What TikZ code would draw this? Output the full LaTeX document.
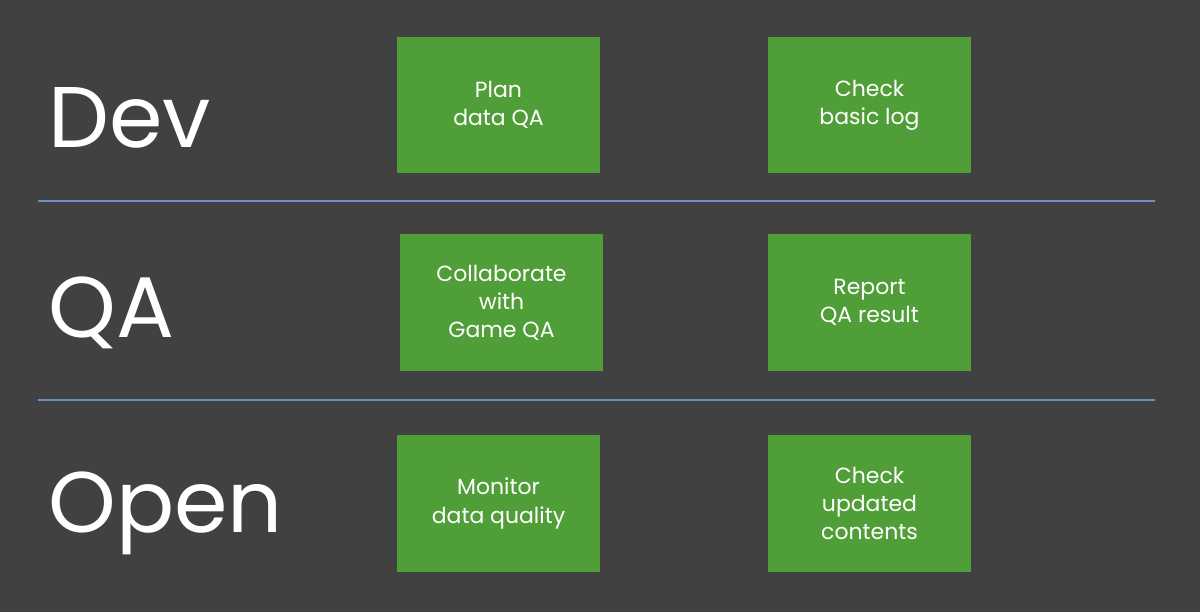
\documentclass[tikz,border=0pt]{standalone}
\usepackage{fontspec}
\setmainfont{Poppins}
\usetikzlibrary{positioning}
\definecolor{bgGray}{HTML}{414141}
\definecolor{taskGreen}{HTML}{4F9E38}
\definecolor{sepBlue}{HTML}{6A8FC6}
\tikzset{
  task/.style={fill=taskGreen, minimum width=4.06cm, minimum height=2.74cm,
    text=white, align=center, font=\fontsize{12.5}{16}\selectfont, inner sep=0pt},
  stage/.style={anchor=west, text=white, font=\fontsize{49}{50}\selectfont, inner sep=0pt}
}
\begin{document}
\begin{tikzpicture}[x=0.02cm, y=-0.02cm]
  \fill[bgGray] (0,0) rectangle (1200,612);
  \useasboundingbox (0,0) rectangle (1200,612);

  \node (Dev) at (48,118) [stage] {Dev};
  \node (QA) at (48,313) [stage] {QA};
  \node (Open) at (48,513) [stage] {Open};

  \node (Plan) at (498.5,105) [task] {Plan\\data QA};
  \node (Basic) at (869.5,105) [task] {Check\\basic log};

  \node (Collab) at (501.5,302.5) [task] {Collaborate\\with\\Game QA};
  \node (Report) at (869.5,302.5) [task] {Report\\QA result};

  \node (Monitor) at (498.5,503.5) [task] {Monitor\\data quality};
  \node (Updated) at (869.5,503.5) [task] {Check\\updated\\contents};

  \coordinate (sepA) at (38,201);
  \coordinate (sepB) at (1155,201);
  \coordinate (sepC) at (38,400);
  \coordinate (sepD) at (1155,400);
  \draw[sepBlue, line width=0.6pt] (sepA) -- (sepB);
  \draw[sepBlue, line width=0.6pt] (sepC) -- (sepD);
\end{tikzpicture}
\end{document}
